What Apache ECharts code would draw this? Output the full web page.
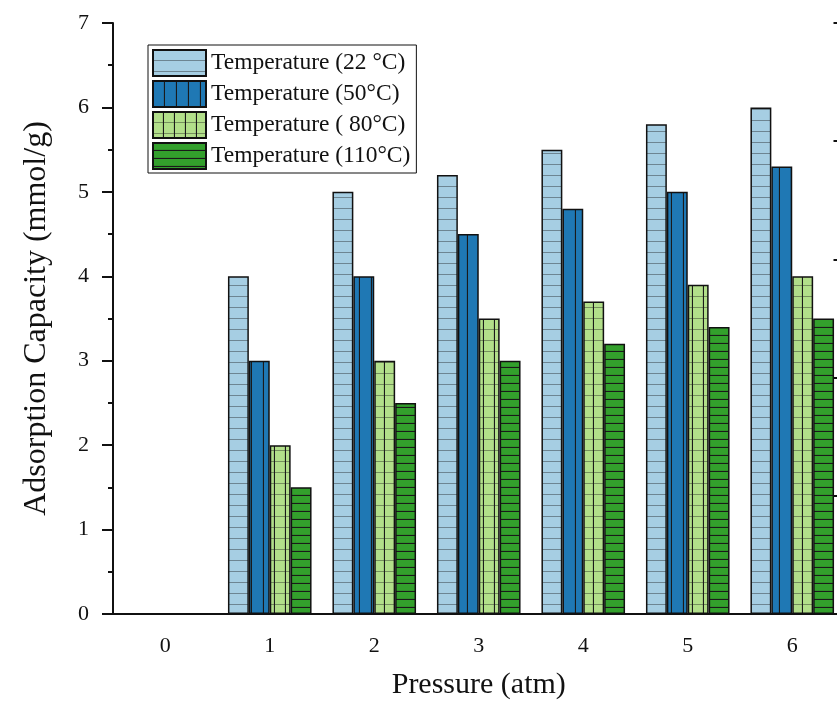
<!DOCTYPE html>
<html>
<head>
<meta charset="utf-8">
<script src="https://cdn.jsdelivr.net/npm/echarts@6/dist/echarts.min.js"></script>
<style>
  html, body { margin: 0; padding: 0; background: #fff; }
  #chart { width: 837px; height: 704px; }
</style>
</head>
<body>
<div id="chart"></div>
<script>
// data
const pressures = ['0', '1', '2', '3', '4', '5', '6'];
const t22 = [0, 4.0, 5.0, 5.2, 5.5, 5.8, 6.0];
const t50 = [0, 3.0, 4.0, 4.5, 4.8, 5.0, 5.3];
const t80 = [0, 2.0, 3.0, 3.5, 3.7, 3.9, 4.0];
const t110 = [0, 1.5, 2.5, 3.0, 3.2, 3.4, 3.5];
const seriesNames = ['Temperature (22 °C)', 'Temperature (50°C)', 'Temperature ( 80°C)', 'Temperature (110°C)'];

const FONT = '"Liberation Serif", "Times New Roman", serif';

// hatch fills like the origin plot
function makePattern(bg, w, h, draw) {
  const c = document.createElement('canvas');
  c.width = w;
  c.height = h;
  const ctx = c.getContext('2d');
  ctx.fillStyle = bg;
  ctx.fillRect(0, 0, w, h);
  ctx.strokeStyle = '#1a1a1a';
  ctx.lineWidth = 1.2;
  draw(ctx, w, h);
  return { image: c, repeat: 'repeat' };
}
const horiz = (ctx, w, h) => { ctx.beginPath(); ctx.moveTo(0, h - 0.5); ctx.lineTo(w, h - 0.5); ctx.stroke(); };
const vert = (ctx, w, h) => { ctx.beginPath(); ctx.moveTo(w - 0.5, 0); ctx.lineTo(w - 0.5, h); ctx.stroke(); };
const grid = (ctx, w, h) => { horiz(ctx, w, h); vert(ctx, w, h); };

const fills = [
  makePattern('#a6cee3', 12, 11.7, horiz),
  makePattern('#1f78b4', 12, 12, vert),
  makePattern('#b2df8a', 11, 11.7, grid),
  makePattern('#33a02c', 12, 8, horiz)
];

const chart = echarts.init(document.getElementById('chart'));

const barSeries = [t22, t50, t80, t110].map((d, i) => ({
  name: seriesNames[i],
  type: 'bar',
  data: d,
  barGap: '0%',
  barCategoryGap: '20%',
  itemStyle: {
    color: fills[i],
    borderColor: '#111',
    borderWidth: 1.5
  }
}));

const option = {
  animation: false,
  backgroundColor: '#fff',
  grid: { left: 113, top: 23, width: 731.5, height: 591, outerBoundsMode: 'none' },
  legend: {
    orient: 'vertical',
    left: 148,
    top: 45,
    icon: 'rect',
    itemWidth: 53,
    itemHeight: 26,
    itemGap: 3,
    padding: [4, 6, 3, 4],
    borderColor: '#111',
    borderWidth: 1,
    textStyle: { fontFamily: FONT, fontSize: 23.5, color: '#111' },
    data: seriesNames
  },
  xAxis: [{
    type: 'category',
    data: pressures,
    name: 'Pressure (atm)',
    nameLocation: 'middle',
    nameGap: 56,
    nameTextStyle: { fontFamily: FONT, fontSize: 30, color: '#111' },
    axisLine: { lineStyle: { color: '#111', width: 2 } },
    axisTick: { alignWithLabel: true, length: 10, lineStyle: { color: '#111', width: 2 } },
    axisLabel: { fontFamily: FONT, fontSize: 22, color: '#111', margin: 21 },
    splitLine: { show: false }
  }, {
    type: 'category',
    data: pressures,
    position: 'bottom',
    axisLine: { show: false },
    axisTick: { length: 5, lineStyle: { color: '#111', width: 2 } },
    axisLabel: { show: false },
    splitLine: { show: false }
  }],
  yAxis: [{
    type: 'value',
    min: 0,
    max: 7,
    interval: 1,
    name: 'Adsorption Capacity (mmol/g)',
    nameLocation: 'middle',
    nameGap: 60,
    nameTextStyle: { fontFamily: FONT, fontSize: 32, color: '#111' },
    axisLine: { show: true, lineStyle: { color: '#111', width: 2 } },
    axisTick: { show: true, length: 11, lineStyle: { color: '#111', width: 2 } },
    minorTick: { show: true, splitNumber: 2, length: 5, lineStyle: { color: '#111', width: 2 } },
    axisLabel: { fontFamily: FONT, fontSize: 22, color: '#111', margin: 24 },
    splitLine: { show: false }
  }, {
    type: 'value',
    position: 'right',
    min: 0,
    max: 5,
    interval: 1,
    axisLine: { show: true, lineStyle: { color: '#111', width: 2 } },
    axisTick: { show: true, inside: true, length: 11, lineStyle: { color: '#111', width: 2 } },
    axisLabel: { show: false },
    splitLine: { show: false }
  }],
  series: barSeries
};

chart.setOption(option);
</script>
</body>
</html>
